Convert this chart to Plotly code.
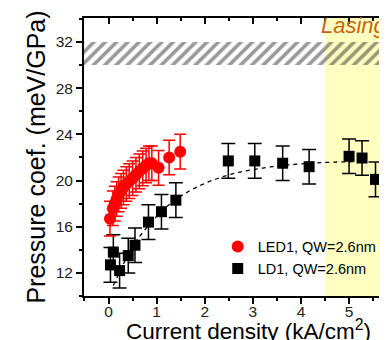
import plotly.graph_objects as go

# ---- data ----
led_x = [0.03, 0.09, 0.13, 0.17, 0.21, 0.26, 0.31, 0.37, 0.43, 0.50, 0.57, 0.64, 0.71, 0.78, 0.84, 0.90, 1.04, 1.26, 1.49]
led_y = [16.7, 17.6, 18.0, 18.4, 18.8, 19.1, 19.4, 19.7, 19.95, 20.2, 20.5, 20.8, 21.05, 21.3, 21.5, 21.5, 21.1, 22.0, 22.5]
led_err = [1.5] * len(led_x)

ld_x = [0.04, 0.10, 0.23, 0.41, 0.55, 0.83, 1.10, 1.40, 2.49, 3.04, 3.62, 4.17, 5.00, 5.27, 5.55]
ld_y = [12.7, 13.8, 12.2, 13.5, 14.4, 16.4, 17.3, 18.3, 21.7, 21.7, 21.5, 21.2, 22.1, 21.95, 20.1]
ld_err = [1.5] * len(ld_x)

fit_x = [0.10, 0.30, 0.55, 0.75, 1.00, 1.30, 1.66, 2.00, 2.35, 2.70, 3.04, 3.40, 3.73, 4.20, 4.70, 5.30]
fit_y = [10.9, 12.7, 14.6, 15.7, 16.9, 18.05, 19.05, 19.75, 20.3, 20.7, 20.97, 21.2, 21.35, 21.5, 21.6, 21.65]

band_low, band_high = 30, 32          # hatched band (meV/GPa)
lasing_start = 4.5                    # kA/cm^2
x_ticks = [0, 1, 2, 3, 4, 5, 6]
y_ticks = [12, 16, 20, 24, 28, 32]

XR = [-0.51, 5.955]
YR = [10.0, 34.08]
FONT = "Arial, Liberation Sans, sans-serif"

fig = go.Figure()

# hatched band
fig.add_trace(go.Bar(
    x=[(XR[0] + 6.2) / 2], y=[band_high - band_low], base=[band_low], width=[7.0],
    marker=dict(color="rgba(0,0,0,0)", line=dict(width=0),
                pattern=dict(shape="/", fgcolor="#333333", bgcolor="rgba(0,0,0,0)",
                             size=8, solidity=0.45)),
    showlegend=False, hoverinfo="skip"))

# fit line
fig.add_trace(go.Scatter(
    x=fit_x, y=fit_y, mode="lines", line=dict(color="black", width=1.3, dash="4px,4px", shape="spline"),
    showlegend=False, hoverinfo="skip"))

fig.add_trace(go.Scatter(
    x=ld_x, y=ld_y, mode="markers", name="LD1, QW=2.6nm", legendrank=2,
    marker=dict(symbol="square", size=11, color="black"),
    error_y=dict(type="data", array=ld_err, color="black", thickness=1.5, width=7)))

fig.add_trace(go.Scatter(
    x=led_x, y=led_y, mode="markers", name="LED1, QW=2.6nm", legendrank=1,
    marker=dict(symbol="circle", size=12, color="#ff0000"),
    error_y=dict(type="data", array=led_err, color="#ff0000", thickness=1.5, width=6)))

# lasing region
fig.add_shape(type="rect", xref="x", yref="paper", x0=lasing_start, x1=7, y0=0, y1=1,
              fillcolor="#ffffc0", line=dict(width=0), layer="below")

fig.add_annotation(text="<i>Lasing</i>", xref="x", yref="y", x=lasing_start, y=33.45,
                   xanchor="left", yanchor="middle", xshift=-6, showarrow=False,
                   font=dict(family=FONT, size=22, color="#c8640f"))

# x-axis title placed explicitly (the reference sits it close to the tick labels)
fig.add_annotation(text="Current density (kA/cm<sup>2</sup>)", xref="paper", yref="paper",
                   x=0.528, y=0, yshift=-34, xanchor="center", yanchor="middle", showarrow=False,
                   font=dict(family=FONT, size=22.5, color="black"))

# partial "6" tick label at the clipped right edge
fig.add_annotation(text="6", xref="paper", yref="paper",
                   x=(6 - XR[0]) / (XR[1] - XR[0]), y=0, yshift=-17, xshift=-1,
                   xanchor="center", yanchor="middle", showarrow=False,
                   font=dict(family=FONT, size=15.5, color="#222"))

axis_common = dict(showgrid=False, zeroline=False, showline=True, linecolor="black", linewidth=2,
                   tickcolor="black", tickwidth=1.5, ticklen=6)
minor_x_out = dict(dtick=0.5, ticks="outside", ticklen=3, tickcolor="black", tickwidth=1.5)

fig.update_layout(
    width=387, height=340,
    margin=dict(l=76, r=0, t=10, b=52),
    plot_bgcolor="white", paper_bgcolor="white",
    font=dict(family=FONT, color="black"),
    showlegend=True,
    legend=dict(x=0.43, y=0.235, xanchor="left", yanchor="top", bgcolor="rgba(0,0,0,0)",
                font=dict(family=FONT, size=14.5, color="black"), tracegroupgap=0, itemwidth=30),
    # main x axis: labels only (sits close to the axis like the reference)
    xaxis=dict(range=XR, tickvals=x_ticks, ticks="",
               tickfont=dict(family=FONT, size=15.5, color="#222"),
               showgrid=False, zeroline=False, showline=True, linecolor="black", linewidth=2),
    # bottom ticks
    xaxis3=dict(range=XR, overlaying="x", side="bottom", matches="x", tickvals=x_ticks, ticks="outside",
                showticklabels=False, minor=minor_x_out, **axis_common),
    yaxis=dict(range=YR, tickvals=y_ticks, ticks="outside",
               tickfont=dict(family=FONT, size=15.5, color="#222"),
               minor=dict(dtick=2, tick0=10, ticks="outside", ticklen=3, tickcolor="black", tickwidth=1.5),
               title=dict(text="Pressure coef. (meV/GPa)", font=dict(family=FONT, size=25), standoff=3),
               **axis_common),
    xaxis2=dict(range=XR, overlaying="x", side="top", matches="x", tickvals=x_ticks, ticks="inside",
                showticklabels=False,
                minor=dict(dtick=0.5, ticks="inside", ticklen=3, tickcolor="black", tickwidth=1.5),
                **axis_common),
    yaxis2=dict(range=YR, overlaying="y", side="right", matches="y", tickvals=y_ticks, ticks="inside",
                showticklabels=False,
                minor=dict(dtick=2, tick0=10, ticks="inside", ticklen=3, tickcolor="black", tickwidth=1.5),
                showgrid=False, zeroline=False, showline=False, tickcolor="black", tickwidth=1.5, ticklen=6),
)

# invisible traces so the mirror / tick axes are drawn
fig.add_trace(go.Scatter(x=[XR[0]], y=[YR[0]], xaxis="x2", yaxis="y2", mode="markers",
                         marker=dict(opacity=0), showlegend=False, hoverinfo="skip"))
fig.add_trace(go.Scatter(x=[XR[0]], y=[YR[0]], xaxis="x3", yaxis="y", mode="markers",
                         marker=dict(opacity=0), showlegend=False, hoverinfo="skip"))

fig.write_html("out.html")
